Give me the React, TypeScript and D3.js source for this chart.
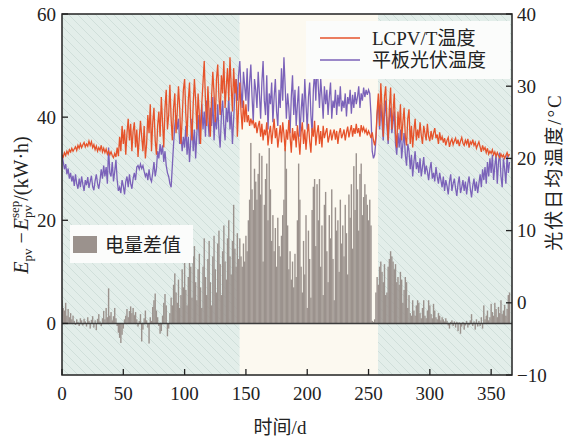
import React from 'react';
import * as d3 from 'd3';

const lcpvTemp = [
20.5,20.2,20.8,20.4,21.0,20.6,21.2,20.9,21.4,21.0,
21.3,21.6,21.1,21.8,21.4,22.0,21.5,21.9,22.2,21.6,
22.0,21.7,22.4,21.8,22.3,21.5,21.9,21.2,21.7,21.0,
21.5,21.1,21.8,20.9,21.4,20.8,21.3,20.6,21.0,20.5,
20.9,20.4,20.1,20.7,20.2,21.5,20.3,23.0,21.0,24.5,
22.0,24.0,20.5,23.5,25.5,22.5,24.8,21.0,23.8,25.0,
21.5,24.0,20.2,22.8,25.2,23.0,21.0,24.5,20.0,22.0,
26.0,23.5,27.5,21.0,25.0,27.0,22.5,20.5,24.5,26.5,
23.0,28.5,25.0,21.5,27.0,29.5,24.0,26.0,30.2,25.5,
22.5,27.0,29.0,23.5,26.5,30.0,27.0,22.0,25.5,29.5,
31.0,26.0,23.0,28.0,30.5,25.0,22.5,27.5,31.0,28.0,
24.0,29.0,26.0,22.0,27.5,30.5,33.5,28.0,24.5,30.0,
26.0,23.0,28.5,32.0,29.0,25.0,31.0,33.0,28.5,26.0,
31.5,29.0,33.5,27.0,30.0,32.5,28.0,34.0,30.0,26.5,
32.5,29.0,31.0,23.0,27.0,30.5,26.5,24.0,28.0,25.0,
27.5,25.0,26.0,24.5,25.5,24.8,25.3,24.2,25.0,23.5,
24.5,25.2,23.0,24.8,22.5,24.0,23.2,25.0,21.8,23.5,
24.5,22.0,23.8,25.5,22.8,24.2,21.5,23.0,24.6,22.2,
25.0,23.4,21.0,24.0,22.6,25.3,23.0,20.8,24.2,22.5,
23.8,21.5,24.6,22.8,20.5,23.6,25.0,22.0,24.0,21.2,
23.5,24.8,22.4,20.8,24.2,23.0,25.2,21.8,23.5,24.6,
22.0,23.8,21.5,24.5,22.8,23.6,24.2,22.2,23.0,24.0,
22.5,23.4,24.0,22.6,23.8,22.0,23.5,24.2,22.8,23.3,
24.0,22.5,23.6,24.4,22.9,23.8,24.6,23.0,24.2,23.4,
24.8,23.5,24.2,23.0,24.6,23.8,24.3,23.6,24.0,23.2,
23.8,23.4,22.8,23.6,22.5,21.8,23.0,26.5,29.0,24.5,
30.4,27.0,23.0,28.5,30.0,25.5,22.5,27.0,29.8,24.0,
26.5,29.0,23.5,21.5,26.5,24.0,27.5,22.5,25.0,27.0,
23.0,21.8,25.5,26.8,22.0,24.5,21.5,23.8,25.5,22.5,
24.0,22.8,25.0,23.2,22.0,24.5,23.5,22.5,24.8,23.0,
22.4,23.8,22.6,23.5,24.2,22.8,23.3,22.0,23.6,22.5,
23.0,22.2,22.8,21.8,22.5,22.9,21.6,22.3,22.7,21.9,
22.4,22.8,22.0,22.6,21.7,22.4,22.9,22.1,21.8,22.5,
22.0,22.7,21.5,22.3,22.0,22.6,21.8,22.2,21.4,21.9,
22.3,21.6,20.9,21.8,21.2,21.5,20.8,21.4,20.6,21.0,
20.7,21.2,20.5,20.9,20.3,20.8,20.4,20.1,20.6,20.2,
20.5,20.0,20.4,20.8,20.3,20.6
];

const flatTemp = [
20.5,19.5,18.5,19.2,17.8,18.6,17.2,18.0,16.8,17.6,
16.2,17.8,16.5,15.8,17.2,16.0,17.5,16.4,15.5,17.0,
16.3,17.4,15.9,16.8,17.6,16.1,15.6,16.9,17.8,16.5,
15.8,17.0,18.5,17.2,19.0,17.5,18.8,16.5,21.5,18.0,
17.5,19.5,16.8,18.2,19.8,17.0,15.5,16.0,15.2,17.0,
16.2,15.0,16.8,17.5,16.0,17.8,16.5,15.8,17.2,18.0,
17.0,18.8,19.0,18.5,19.2,18.6,19.0,18.2,17.5,18.0,
17.0,18.5,17.2,16.8,18.0,19.5,17.5,18.5,21.0,20.0,
22.0,20.5,21.8,19.5,21.0,19.0,18.0,17.5,16.5,16.0,
19.0,22.0,24.5,26.0,24.0,25.5,22.0,23.5,21.0,23.0,
21.5,24.5,20.5,23.0,19.5,22.5,25.5,21.0,24.0,20.0,
23.5,26.0,22.0,25.0,27.5,24.0,26.5,23.0,28.0,25.5,
23.0,27.0,24.5,28.5,22.5,26.0,24.0,27.5,23.5,21.5,
26.0,28.0,24.5,22.5,27.0,25.0,28.5,24.0,26.5,22.0,
25.5,29.0,31.0,28.0,31.5,33.5,29.5,27.0,32.0,30.0,
28.0,32.5,26.5,30.5,33.0,28.5,25.0,31.0,29.5,27.0,
32.0,29.0,25.5,30.5,33.5,28.0,26.0,31.5,24.0,29.0,
27.5,30.5,25.0,28.5,31.0,26.5,24.5,29.5,27.0,32.5,
28.0,34.0,30.0,25.5,29.0,27.0,23.5,28.5,31.5,26.0,
29.5,24.5,27.5,30.0,23.0,26.5,29.0,25.0,31.0,27.5,
24.0,28.5,30.5,26.0,23.5,29.5,32.0,28.0,33.5,30.0,
27.0,31.0,28.5,25.5,30.0,27.5,29.5,26.0,28.5,30.5,
25.5,28.0,27.0,29.5,26.0,28.8,27.2,30.0,26.5,28.0,
27.0,29.0,25.8,28.5,27.5,29.5,26.2,28.8,27.0,29.2,
27.5,28.5,30.0,27.0,29.0,28.0,29.8,28.5,29.5,28.8,
29.5,29.0,26.0,21.0,20.0,20.5,22.5,26.0,28.0,24.0,
27.5,25.0,22.5,26.0,28.0,24.5,22.0,25.5,27.0,23.5,
25.0,26.5,22.0,20.5,23.5,21.5,24.0,20.0,22.0,23.5,
20.5,19.0,22.0,21.0,18.5,20.5,17.5,19.5,21.0,18.5,
19.5,18.0,20.0,17.5,18.8,20.2,17.8,19.0,18.2,17.0,
18.5,19.5,17.2,18.0,16.8,18.8,17.5,16.5,18.0,17.0,
16.0,17.5,15.5,17.0,16.2,15.0,16.8,17.8,15.5,16.5,
17.2,15.8,14.8,16.5,17.5,15.2,16.0,17.0,15.5,16.8,
15.0,16.5,17.5,15.8,14.6,16.2,17.2,15.5,16.8,15.2,
16.5,17.8,16.0,18.5,17.0,18.8,16.5,19.5,17.5,20.0,
18.0,20.5,17.0,19.0,20.5,16.5,19.5,20.8,17.5,16.0,
20.0,18.5,16.5,20.5,18.0,19.5
];

const energyDiff = [
4.5,3.0,2.5,4.0,1.5,2.8,1.2,2.0,0.8,1.5,
0.5,-0.3,0.8,0.3,-0.5,1.0,0.6,-0.4,0.9,0.4,
-0.6,1.2,0.5,-1.0,0.7,1.4,-0.8,0.6,-1.3,0.9,
1.8,0.4,-0.5,1.0,2.4,0.8,3.0,1.2,6.8,1.5,
2.2,0.6,1.4,3.0,1.0,-0.5,-1.8,-2.8,-3.8,-2.2,
-1.0,0.8,1.5,2.8,1.2,2.4,3.3,2.0,3.0,1.6,
2.2,0.8,-0.6,0.5,1.8,-3.5,-1.2,1.0,2.5,0.6,
-0.8,-3.9,1.2,0.5,3.2,4.5,5.8,2.5,1.2,-0.5,
-2.0,-1.5,1.5,4.0,5.7,3.5,-2.5,-1.0,2.0,5.0,
3.5,7.5,9.7,6.0,4.0,8.5,3.0,5.5,10.5,7.0,
12.0,6.5,3.5,9.0,14.0,11.0,5.0,13.0,15.0,8.0,
4.5,10.5,13.5,7.0,3.0,11.0,16.5,9.0,5.5,12.5,
16.0,8.0,3.5,13.0,17.0,10.5,6.0,15.5,18.0,11.5,
5.5,14.0,19.0,12.0,8.5,16.5,20.0,13.0,9.5,16.0,
23.0,14.5,11.0,17.5,12.5,16.5,13.0,11.0,15.5,12.0,
17.0,14.0,20.0,24.0,35.0,26.0,22.0,30.0,27.5,24.0,
29.0,33.0,25.0,32.5,12.0,23.0,28.0,31.0,20.0,34.0,
26.0,16.0,21.0,14.0,18.5,11.0,20.5,15.0,13.0,17.0,
21.0,24.0,34.0,30.0,19.0,10.5,14.0,8.5,12.0,7.0,
13.5,9.0,20.0,31.0,24.0,11.0,6.0,16.0,9.5,21.0,
3.0,18.0,12.5,5.0,22.0,26.5,28.0,15.0,27.0,20.0,
28.0,11.0,19.0,5.5,23.0,25.5,14.0,8.0,21.0,16.5,
26.0,12.5,4.5,22.5,18.0,20.0,10.0,24.0,15.5,19.0,
13.0,23.0,17.5,9.5,25.0,20.5,27.0,14.5,30.5,22.0,
33.0,26.0,18.0,29.0,31.0,21.0,24.5,27.0,25.0,23.0,
20.0,24.0,19.0,0.5,0.3,0.8,6.0,9.0,7.5,11.0,
12.0,10.0,8.0,11.5,5.5,6.0,11.0,12.5,14.0,13.0,
12.0,10.5,11.5,8.0,9.0,7.5,10.0,8.5,4.0,6.5,
9.0,8.0,3.0,5.5,2.0,1.5,4.5,2.5,1.5,3.5,
4.5,4.0,2.0,1.0,3.0,4.5,1.5,1.0,2.5,4.5,
3.5,1.8,1.0,3.8,2.5,1.2,0.8,2.0,1.5,0.6,
1.2,0.8,0.4,1.0,0.5,-0.4,-1.0,0.3,0.6,-0.5,
0.4,-0.8,0.3,-1.5,0.2,-2.0,-0.6,0.3,-1.2,-0.4,
0.5,-0.8,-0.3,0.6,1.8,-0.5,0.4,-1.2,0.8,-0.6,
0.5,-0.5,1.2,-1.0,3.5,0.8,1.5,2.5,0.6,1.2,
3.8,2.2,1.5,4.0,2.8,1.2,3.2,2.0,4.5,1.8,
2.5,3.6,1.5,2.8,5.5,6.0
];

const xTicks = [0, 50, 100, 150, 200, 250, 300, 350];
const leftTicks = [0, 20, 40, 60];
const rightTicks = [-10, 0, 10, 20, 30, 40];
const summerStart = 145;
const summerEnd = 257.7;
const legendLabels = ['LCPV/T温度', '平板光伏温度'];
const barLabel = '电量差值';

const L = 62, R = 512, T = 14, B = 375;
const serif = '"Liberation Serif", "Times New Roman", "Noto Sans CJK SC", serif';
const cjk = '"Liberation Serif", "Noto Sans CJK SC", sans-serif';

const RED = '#e6532b';
const PURPLE = '#7b62b9';
const GRAY = '#9b928d';

export default function App() {
  const x = d3.scaleLinear().domain([0, 367]).range([L, R]);
  const yL = d3.scaleLinear().domain([-10, 60]).range([B, T]);
  const yR = d3.scaleLinear().domain([-10, 40]).range([B, T]);
  const line = (arr: number[]) =>
    d3.line<number>().x((_, i) => x(i)).y((d) => yR(d))(arr) || '';
  const bw = 1.4;

  return (
    <svg width={566} height={439} style={{ position: 'absolute', left: 0, top: 0, background: '#fff' }}>
      <defs>
        <pattern id="hatch" patternUnits="userSpaceOnUse" width={9} height={9}>
          <rect width={9} height={9} fill="#e3eeea" />
          <path d="M0,0 L9,9 M-2,7 L2,11 M7,-2 L11,2" stroke="#d0dfda" strokeWidth={1} />
        </pattern>
        <clipPath id="plot"><rect x={L} y={T} width={R - L} height={B - T} /></clipPath>
      </defs>
      <rect x={L} y={T} width={x(summerStart) - L} height={B - T} fill="url(#hatch)" />
      <rect x={x(summerStart)} y={T} width={x(summerEnd) - x(summerStart)} height={B - T} fill="#fcf9f0" />
      <rect x={x(summerEnd)} y={T} width={R - x(summerEnd)} height={B - T} fill="url(#hatch)" />
      <g clipPath="url(#plot)">
        {energyDiff.map((v, i) => (
          <rect key={i} x={x(i) - bw / 2} width={bw}
            y={yL(Math.max(0, v))} height={Math.abs(yL(v) - yL(0))} fill={GRAY} />
        ))}
        <line x1={L} x2={R} y1={yL(0)} y2={yL(0)} stroke="#3d3d3d" strokeWidth={1.6} />
        <path d={line(flatTemp)} fill="none" stroke={PURPLE} strokeWidth={1.3} />
        <path d={line(lcpvTemp)} fill="none" stroke={RED} strokeWidth={1.3} />
      </g>
      <rect x={L} y={T} width={R - L} height={B - T} fill="none" stroke="#222" strokeWidth={1.5} />
      {xTicks.map((t) => (
        <g key={'x' + t}>
          <line x1={x(t)} x2={x(t)} y1={B} y2={B - 6} stroke="#222" strokeWidth={1.3} />
          <text x={x(t)} y={400} textAnchor="middle" fontFamily={serif} fontSize={19} fill="#222">{t}</text>
        </g>
      ))}
      {leftTicks.map((t) => (
        <g key={'l' + t}>
          <line x1={L} x2={L + 6} y1={yL(t)} y2={yL(t)} stroke="#222" strokeWidth={1.3} />
          <text x={56} y={yL(t) + 6.5} textAnchor="end" fontFamily={serif} fontSize={19} fill="#222">{t}</text>
        </g>
      ))}
      {rightTicks.map((t) => (
        <g key={'r' + t}>
          <line x1={R} x2={R - 6} y1={yR(t)} y2={yR(t)} stroke="#222" strokeWidth={1.3} />
          <text x={517} y={yR(t) + 6.5} textAnchor="start" fontFamily={serif} fontSize={19} fill="#222">{t < 0 ? '−' + Math.abs(t) : t}</text>
        </g>
      ))}
      <text x={280} y={434} textAnchor="middle" fontFamily={cjk} fontSize={19} fill="#222">时间/d</text>
      <text transform="translate(561,172) rotate(-90)" textAnchor="middle" fontFamily={cjk} fontSize={19} letterSpacing={2} fill="#222">光伏日均温度/°C</text>
      <text transform="translate(28,205) rotate(-90)" textAnchor="middle" fontFamily={serif} fontSize={20} fill="#222">
        <tspan fontStyle="italic">E</tspan>
        <tspan fontSize={13} dy={4}>pv</tspan>
        <tspan dx={5} dy={-4}>−</tspan>
        <tspan dx={2} fontStyle="italic">E</tspan>
        <tspan fontSize={13} dy={4}>pv</tspan>
        <tspan fontSize={13} dx={-13} dy={-13}>sep</tspan>
        <tspan dy={9}>/(kW·h)</tspan>
      </text>
      <rect x={306} y={21} width={204} height={58} fill="#fbfcfb" />
      <line x1={320} x2={360} y1={38} y2={38} stroke={RED} strokeWidth={1.6} />
      <line x1={320} x2={360} y1={60} y2={60} stroke={PURPLE} strokeWidth={1.6} />
      <text x={372} y={45} fontFamily={cjk} fontSize={19} fill="#222">{legendLabels[0]}</text>
      <text x={372} y={67} fontFamily={cjk} fontSize={19} fill="#222">{legendLabels[1]}</text>
      <rect x={70} y={225} width={123} height={38} fill="#fbfcfb" />
      <rect x={73} y={236} width={24} height={17} fill={GRAY} />
      <text x={105} y={252} fontFamily={cjk} fontSize={19} fill="#222">{barLabel}</text>
    </svg>
  );
}
